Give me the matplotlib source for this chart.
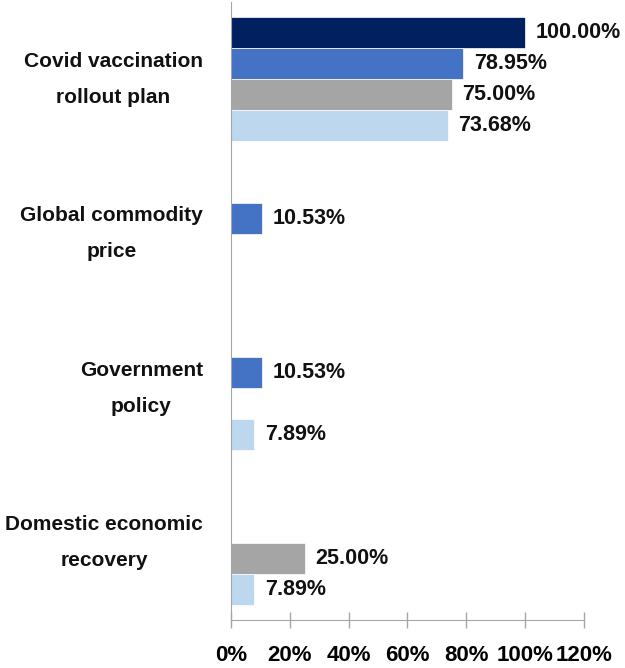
import matplotlib
matplotlib.use("Agg")
import matplotlib.pyplot as plt
import numpy as np

categories = ["Covid vaccination\nrollout plan", "Global commodity\nprice",
              "Government\npolicy", "Domestic economic\nrecovery"]
series_names = ["Series 1", "Series 2", "Series 3", "Series 4"]
series_values = [
    [100.00, 0.0, 0.0, 0.0],
    [78.95, 10.53, 10.53, 0.0],
    [75.00, 0.0, 0.0, 25.00],
    [73.68, 0.0, 7.89, 7.89],
]
colors = ["#002060", "#4472C4", "#A5A5A5", "#BDD7EE"]
xticks = [0, 20, 40, 60, 80, 100, 120]

plt.rcParams['font.family'] = ['Liberation Sans', 'DejaVu Sans']
fig = plt.figure(figsize=(6.25, 6.68), dpi=100)
ax = fig.add_axes([231/625, 1-620/668, 353/625, 618/668])

y = np.arange(len(categories))
h = 0.2
for i, (name, vals) in enumerate(zip(series_names, series_values)):
    pos = y - 0.3 + i * h
    ax.barh(pos, vals, height=h, color=colors[i], label=name, edgecolor='white', linewidth=0.5)
    for p, v in zip(pos, vals):
        if v > 0:
            ax.text(v + 3.6, p, f"{v:.2f}%", va='center', ha='left',
                    fontsize=15.5, fontweight='bold', color='#111111')

ax.set_ylim(len(categories) - 0.5, -0.5)
ax.set_xlim(0, 120)
ax.set_xticks(xticks)
ax.set_xticklabels([f"{t}%" for t in xticks], fontsize=16, fontweight='bold')
ax.set_yticks([])
for k, lbl in zip(y, categories):
    ax.text(-9.6, k, lbl, ha='right', va='center', fontsize=15, fontweight='bold',
            linespacing=2.15, multialignment='center', color='#111111')

ax.spines['top'].set_visible(False)
ax.spines['right'].set_visible(False)
ax.spines['left'].set_color('#A6A6A6')
ax.spines['bottom'].set_color('#A6A6A6')
ax.tick_params(axis='x', direction='inout', length=12, color='#A6A6A6', pad=12, width=1)

fig.savefig("out.png", dpi=100)
